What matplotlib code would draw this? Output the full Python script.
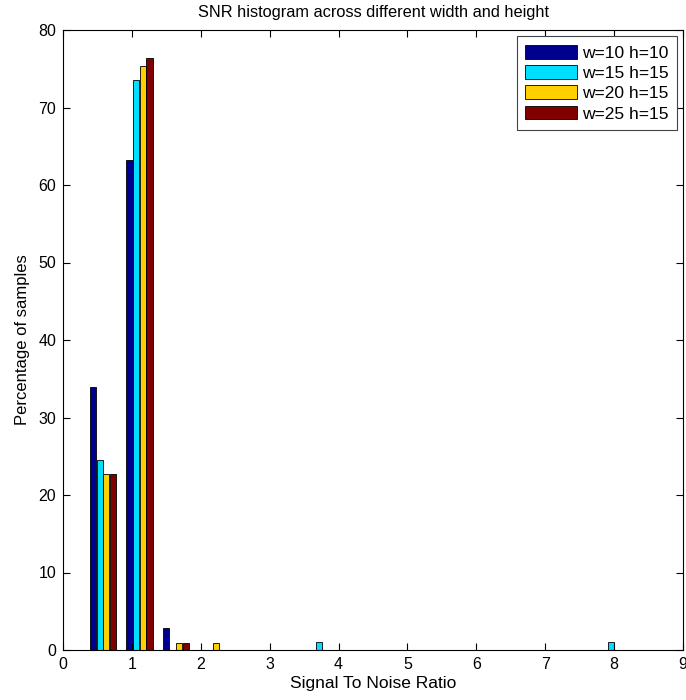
import matplotlib
matplotlib.use("Agg")
from matplotlib import pyplot as plt
import numpy as np

# bin centres (SNR) shared by all four series
snr_bins = [0.58, 1.11, 1.64, 2.17, 2.70, 3.23, 3.76, 4.29, 4.82, 5.35, 5.88, 6.41, 6.94, 7.47, 8.00]

# percentage of samples per bin
w10_h10 = [34.0, 63.2, 2.9, 0, 0, 0, 0, 0, 0, 0, 0, 0, 0, 0, 0]
w15_h15 = [24.5, 73.5, 0, 0, 0, 0, 1.0, 0, 0, 0, 0, 0, 0, 0, 1.0]
w20_h15 = [22.7, 75.4, 0.95, 0.95, 0, 0, 0, 0, 0, 0, 0, 0, 0, 0, 0]
w25_h15 = [22.7, 76.4, 0.95, 0, 0, 0, 0, 0, 0, 0, 0, 0, 0, 0, 0]

series = [w10_h10, w15_h15, w20_h15, w25_h15]
labels = ['w=10 h=10', 'w=15 h=15', 'w=20 h=15', 'w=25 h=15']
colors = ['#00008F', '#00DFFF', '#FFCF00', '#800000']

plt.rcParams['font.family'] = ['Liberation Sans', 'DejaVu Sans']
plt.rcParams['font.size'] = 12

fig = plt.figure(figsize=(6.86, 7.0), dpi=100)
ax = fig.add_axes([63 / 686, 50 / 700, 620 / 686, 620 / 700])

x = np.array(snr_bins)
slot = 0.0964
for i, vals in enumerate(series):
    ax.bar(x + (i - 1.5) * slot, vals, width=slot * 0.93, color=colors[i],
           edgecolor='black', linewidth=0.6, label=labels[i])

ax.set_xlim(0, 9)
ax.set_ylim(0, 80)
ax.set_xticks(range(0, 10))
ax.set_yticks(range(0, 81, 10))
ax.tick_params(direction='in', top=True, right=True, length=5, labelsize=11.5, pad=5)
ax.set_xlabel('Signal To Noise Ratio', fontsize=12.5, labelpad=3)
ax.set_ylabel('Percentage of samples', fontsize=12, labelpad=6)
ax.set_title('SNR histogram across different width and height', fontsize=11.8, pad=9)

leg = ax.legend(loc='upper right', fancybox=False, framealpha=1, edgecolor='#444444',
                handlelength=3.0, handleheight=0.85, borderaxespad=0.35, labelspacing=0.25,
                handletextpad=0.25, borderpad=0.5, fontsize=12.5)
leg.get_frame().set_linewidth(0.8)

fig.savefig('out.png', dpi=100)
